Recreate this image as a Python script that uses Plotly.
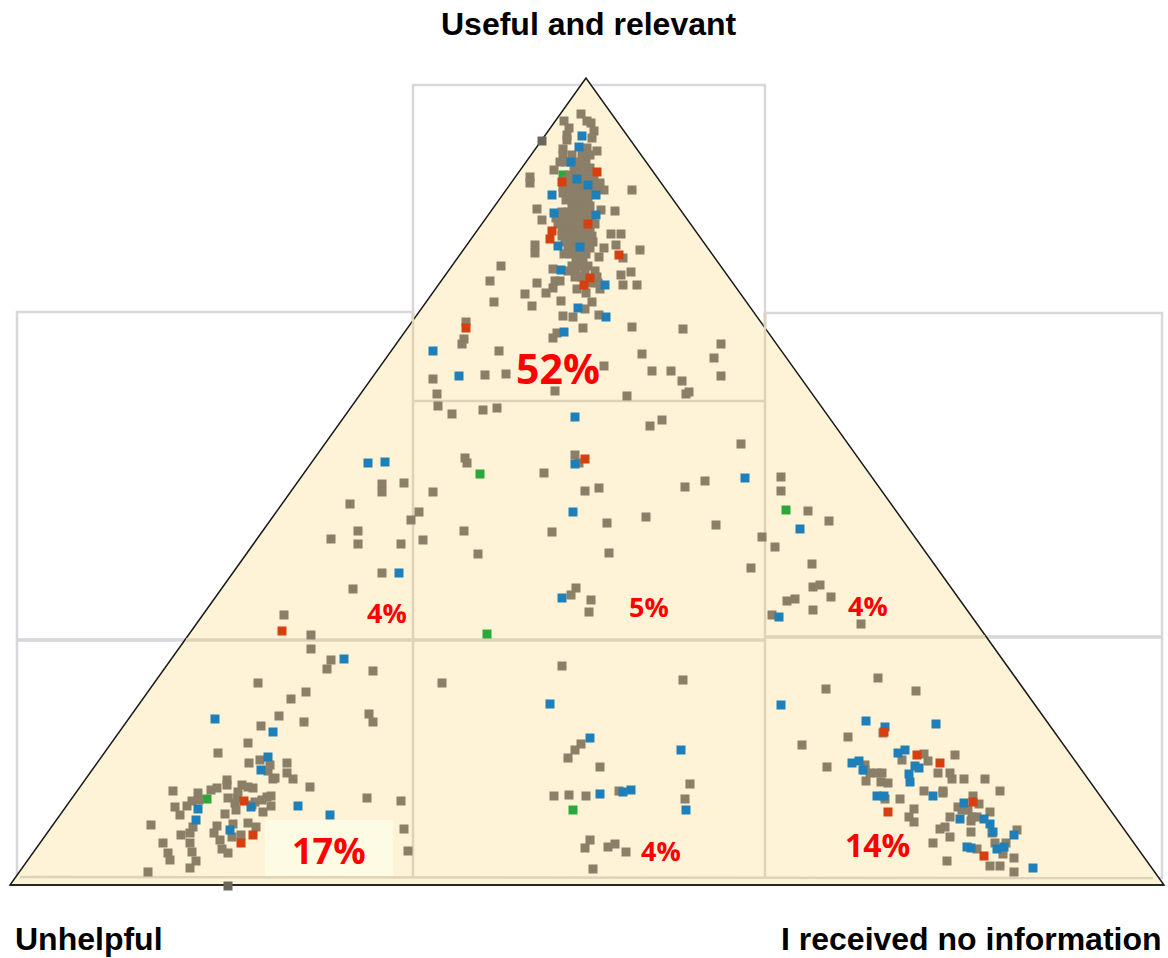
import plotly.graph_objects as go

W, H = 1168, 958

# Neutral responses as (x, y) in the triangle's plane
tan_apex = [(581,114),(564,121),(587,121),(591,123),(569,128),(594,131),(567,135),(592,138),(567,140),(597,151),(563,149),(587,148),
(563,155),(572,155),(582,155),(590,155),(560,162),(566,162),(578,162),(586,162),(574,168),(582,168),(590,168),(554,170),
(570,175),(578,175),(584,175),(590,175),(566,180),(574,180),(580,180),(586,180),(594,180),(563,187),(569,187),(576,187),(583,187),(590,187),(598,187),
(563,193),(571,193),(578,193),(585,193),(592,193),(566,200),(573,200),(580,200),(588,200),(572,206),(578,206),(585,206),(590,206),
(562,212),(568,212),(575,212),(582,212),(589,212),(556,218),(563,218),(570,218),(577,218),(584,218),(592,218),(558,224),(565,224),(572,224),(579,224),(586,224),(595,224),
(562,230),(569,230),(576,230),(583,230),(590,230),(562,236),(570,236),(578,236),(585,236),(592,236),(565,242),(572,242),(579,242),(587,242),(593,242),
(568,248),(575,248),(582,248),(590,248),(564,254),(572,254),(580,254),(586,254),(576,260),(583,260),(572,266),(580,266),(588,266),
(568,271),(576,271),(585,271),(595,271),(575,277),(582,277),(597,277),(590,283),(598,283),(600,289),
(530,177),(530,183),(604,190),(632,190),(600,183),(537,209),(542,220),(601,210),(615,211),(611,234),(621,234),(616,245),(535,245),(535,253),
(640,250),(604,248),(623,258),(599,257),(501,266),(490,281),(553,269),(537,283),(555,281),(560,281),(553,288),(546,293),(525,294),(494,302),
(532,306),(561,301),(577,289),(586,293),(592,302),(621,275),(631,272),(623,285),(637,285),(563,316),(573,317),(585,309),(599,315),(583,328),
(632,327),(683,329),(557,333),(553,338),(466,322),(464,339),(462,344),(499,351),(642,354),(721,344),(714,358),(604,366),(652,371),(671,371),
(682,381),(721,376),(433,379),(485,375),(506,374),(437,394),(555,391),(627,396),(686,394)]
tan_middle = [(438,406),(452,414),(483,410),(497,408),(650,426),(662,420),(689,392),(741,444),(465,458),(467,463),(575,455),(544,473),(579,463),
(599,488),(585,491),(685,487),(705,481),(433,492),(382,484),(382,492),(404,483),(350,504),(331,539),(358,531),(358,544),(401,544),(411,520),
(419,512),(423,540),(464,531),(478,554),(552,532),(607,523),(646,517),(716,525),(609,553),(751,568),(762,537),(775,547),(781,477),(781,491),
(808,511),(829,521),(812,564),(820,585),(813,587),(831,597),(795,599),(787,601),(772,615),(813,610),(861,624),(353,589),(382,573),(284,615),
(576,588),(571,595),(591,600),(589,612)]
tan_left = [(311,635),(311,649),(331,660),(327,669),(373,671),(258,683),(306,692),(291,699),(279,716),(304,722),(369,714),(373,722),(261,726),
(248,743),(218,753),(249,763),(260,760),(270,765),(268,771),(287,763),(287,773),(293,779),(275,778),(273,779),(310,787),(227,780),(227,785),
(217,788),(211,790),(242,785),(248,787),(253,788),(173,791),(198,793),(192,801),(199,800),(187,806),(175,807),(180,815),(228,798),(238,792),
(237,798),(235,803),(236,810),(225,814),(255,802),(252,805),(262,800),(267,797),(271,796),(271,806),(263,812),(367,798),(401,801),(151,825),
(193,827),(217,826),(233,824),(248,823),(256,827),(190,833),(181,835),(214,833),(220,840),(241,835),(232,837),(190,843),(163,843),(222,849),
(228,853),(192,852),(168,853),(170,860),(196,861),(190,868),(148,872),(404,829),(408,851)]
tan_centre = [(562,666),(442,683),(683,680),(581,744),(575,750),(568,758),(600,767),(690,784),(554,796),(569,795),(586,796),(619,791),(685,799),
(590,840),(585,848),(608,847),(615,844),(626,852),(593,869)]
tan_right = [(878,678),(826,689),(916,691),(848,737),(802,745),(883,733),(924,754),(902,760),(928,761),(955,755),(827,767),(865,765),(865,770),
(870,773),(877,773),(882,773),(866,781),(881,782),(888,783),(938,773),(950,773),(952,779),(964,779),(985,779),(1000,791),(924,791),(943,791),
(943,793),(885,799),(900,799),(973,796),(979,804),(958,807),(962,810),(968,810),(990,812),(914,809),(950,817),(909,817),(914,822),(972,817),
(971,821),(977,817),(945,827),(940,829),(971,832),(992,833),(1017,830),(950,837),(933,843),(995,843),(1006,843),(977,849),(1003,854),(1014,858),
(947,861),(990,866),(1000,866),(1014,872)]
tan_points = tan_apex + tan_middle + tan_left + tan_centre + tan_right

dark_points = [(542,141),(228,886)]

blue_points = [(582,136),(579,147),(571,162),(577,179),(588,185),(552,195),(596,195),(554,213),(596,215),(558,246),(580,247),(561,270),(605,285),
(578,308),(606,317),(564,332),(433,351),(459,376),
(368,463),(385,462),(575,417),(573,512),(745,478),(575,464),(800,529),(399,573),(562,598),(779,617),
(344,659),(215,719),(273,732),(268,757),(261,770),(298,806),(330,815),(198,809),(196,820),(251,807),(230,830),
(550,704),(590,738),(681,750),(631,790),(623,792),(600,794),(686,810),
(781,705),(866,721),(885,727),(936,724),(898,753),(905,750),(852,763),(859,761),(863,770),(915,766),(919,768),(909,774),(910,782),(877,796),
(884,796),(933,796),(964,803),(960,819),(984,819),(990,824),(993,832),(1014,835),(967,847),(971,848),(1004,847),(997,849),(1033,868)]

red_points = [(597,172),(562,182),(588,224),(552,231),(550,239),(619,255),(590,278),(584,285),(466,328),(585,459),(282,631),
(244,801),(253,835),(241,843),(884,732),(917,755),(940,763),(973,802),(888,812),(984,856)]

green_points = [(563,175),(480,474),(786,510),(487,634),(207,799),(573,810)]

corner_labels = ["Useful and relevant", "Unhelpful", "I received no information"]
share_labels = ["52%", "17%", "14%", "4%", "5%", "4%", "4%"]

fig = go.Figure()

series = [("Green", green_points, "#2BA83C"), ("Neutral", tan_points, "#8B7F68"), ("Dark", dark_points, "#6B665C"),
          ("Blue", blue_points, "#1F80B9"), ("Red", red_points, "#D63F10")]
for name, pts, color in series:
    fig.add_trace(go.Scatter(x=[p[0] for p in pts], y=[p[1] for p in pts], mode="markers", name=name,
                             marker=dict(symbol="square", size=9, color=color, line=dict(width=0))))

GRID = "#D8D8DC"
INNER = "#DDD3B8"
def rect(x0, y0, x1, y1, color=GRID, width=2.5):
    return dict(type="rect", xref="x", yref="y", x0=x0, y0=y0, x1=x1, y1=y1, layer="below",
                line=dict(color=color, width=width), fillcolor="rgba(0,0,0,0)")
def seg(x0, y0, x1, y1, color=INNER, width=2.5):
    return dict(type="line", xref="x", yref="y", x0=x0, y0=y0, x1=x1, y1=y1, layer="below",
                line=dict(color=color, width=width))

shapes = [rect(413,85,765,401), rect(17,312,413,640), rect(765,313,1162,637), rect(17,640,413,877), rect(765,637,1162,878),
          seg(17,640,413,640,color=GRID,width=3.5), seg(765,637,1162,637,color=GRID,width=3.5),
          dict(type="path", path="M 586 78 L 10 885 L 1164 885 Z", xref="x", yref="y", layer="below",
               fillcolor="#FEF3D7", line=dict(color="#1A1A1A", width=1.5)),
          seg(413,401,765,401), seg(413,313,413,877), seg(765,313,765,878), seg(186,640,765,640,width=3.5), seg(765,637,985,637,width=3.5),
          seg(20,877,1153,878),
          dict(type="rect", xref="x", yref="y", x0=265, y0=820, x1=393, y1=876, layer="below",
               fillcolor="#FEFBE4", line=dict(width=0))]
# base line back on top of the inner strokes
shapes.append(seg(10,885,1164,885,color="#1A1A1A",width=1.5))

def note(text, x, y, size, color, family, xanchor="center"):
    fig.add_annotation(x=x, y=y, xref="x", yref="y", text=f"<b>{text}</b>", showarrow=False, xanchor=xanchor, yanchor="middle",
                       font=dict(size=size, color=color, family=family))

ARIAL = "Liberation Sans"
SANS = "Open Sans"
note(corner_labels[0], 589, 24, 32, "#000000", ARIAL)
note(corner_labels[1], 13, 939, 32, "#000000", ARIAL, "left")
note(corner_labels[2], 1164, 939, 32, "#000000", ARIAL, "right")
for text, x, y, size in zip(share_labels, [558,329,877,387,649,868,661], [368,850,844,612,606,605,850], [41,36,32,27,27,27,27]):
    note(text, x, y, size, "#FF0000", SANS)

fig.update_layout(width=W, height=H, margin=dict(l=0, r=0, t=0, b=0), showlegend=False, shapes=shapes,
                  paper_bgcolor="white", plot_bgcolor="white",
                  xaxis=dict(range=[0, W], visible=False), yaxis=dict(range=[H, 0], visible=False))
fig.write_html("out.html", config=dict(displayModeBar=False),
               post_script="document.body.style.margin='0';document.documentElement.style.overflow='hidden';")
